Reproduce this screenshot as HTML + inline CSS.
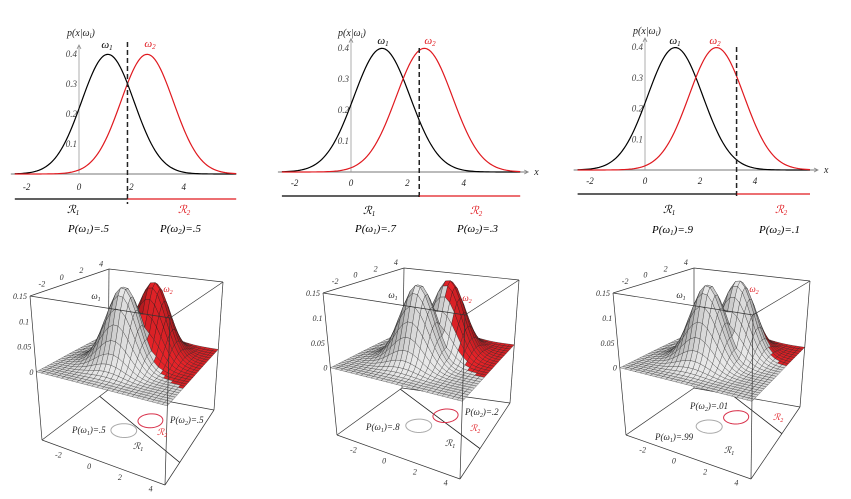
<!DOCTYPE html>
<html><head><meta charset="utf-8"><style>
html,body{margin:0;padding:0;background:#fff;}
svg{display:block;font-family:"Liberation Serif",serif;font-style:italic;}
</style></head><body>
<svg id="fig" width="851" height="499" viewBox="0 0 851 499" xmlns="http://www.w3.org/2000/svg"></svg>
<script>
// ---------- data ----------
const topMeans = [1.1, 2.6];
const topPriors1 = [0.5, 0.7, 0.9];
const topPriors2 = [0.5, 0.3, 0.1];
const topThresholds = [1.85, 2.42, 3.33];
const xTicks = [-2, 0, 2, 4];
const yTicks = [0.1, 0.2, 0.3, 0.4];
const surfMean1 = [0.5, 0.83];
const surfMean2 = [1.5, 2.57];
const surfPrior1 = [0.5, 0.8, 0.99];
const surfPrior2 = [0.5, 0.2, 0.01];
const zTicks = [0, 0.05, 0.1, 0.15];
const floorTicks = [-2, 0, 2, 4];
const priorLabels1 = ['.5', '.8', '.99'];
const priorLabels2 = ['.5', '.2', '.01'];
const topPriorLabels1 = ['.5', '.7', '.9'];
const topPriorLabels2 = ['.5', '.3', '.1'];

const NS = 'http://www.w3.org/2000/svg';
const svg = document.getElementById('fig');
function mk(tag, attrs, parent) {
  const e = document.createElementNS(NS, tag);
  for (const k in attrs) e.setAttribute(k, attrs[k]);
  (parent || svg).appendChild(e);
  return e;
}
function txt(x, y, html, size, color, anchor, parent) {
  const t = mk('text', {x: x, y: y, 'font-size': size, fill: color || '#222', 'text-anchor': anchor || 'start'}, parent);
  t.innerHTML = html;
  return t;
}
const RED = '#e0191f';

// ---------- top 1D panels ----------
const topPanels = [
  {x0: 79, ppu: 26.2, axisY: 174, ypu: 300, regY: 199, dashTop: 42, dashBot: 204, tickY: 190, xlab: false, lbl: [67, 36, 107, 48, 150, 47], r1: [67, 213], r2: [178, 213], p1: [68, 232], p2: [160, 232]},
  {x0: 351, ppu: 28.2, axisY: 172, ypu: 310, regY: 196, dashTop: 48, dashBot: 200, tickY: 186, xlab: true, lbl: [338, 36, 383, 44, 430, 44], r1: [363, 214], r2: [470, 214], p1: [355, 232], p2: [457, 232]},
  {x0: 645, ppu: 27.5, axisY: 170, ypu: 307, regY: 194, dashTop: 47, dashBot: 198, tickY: 184, xlab: true, lbl: [633, 34, 675, 44, 715, 44], r1: [663, 213], r2: [775, 213], p1: [652, 233], p2: [759, 233]}
];
function gauss(x, m) { return Math.exp(-0.5 * (x - m) * (x - m)) / Math.sqrt(2 * Math.PI); }
topPanels.forEach((P, i) => {
  const g = mk('g', {});
  
  
  const X = v => P.x0 + v * P.ppu;
  const Y = v => P.axisY - v * P.ypu;
  const xmin = -2.45, xmax = 6;
  const xa = mk('line', {x1: X(xmin) - 4, y1: P.axisY, x2: X(xmax) + (P.xlab ? 8 : 0), y2: P.axisY, stroke: '#777', 'stroke-width': 0.9}, g);
  
  
  const ya = mk('line', {x1: X(0), y1: P.axisY, x2: X(0), y2: Y(0.43), stroke: '#999', 'stroke-width': 0.8}, g);
  
  
  mk('path', {d: `M${X(0) - 2},${Y(0.43) + 4} L${X(0)},${Y(0.43)} L${X(0) + 2},${Y(0.43) + 4}`, fill: 'none', stroke: '#888', 'stroke-width': 0.8}, g);
  if (P.xlab) {
    mk('path', {d: `M${X(xmax) + 4},${P.axisY - 2} L${X(xmax) + 8},${P.axisY} L${X(xmax) + 4},${P.axisY + 2}`, fill: 'none', stroke: '#888', 'stroke-width': 0.8}, g);
    const xl = txt(X(xmax) + 14, P.axisY + 3, 'x', 10, '#222', 'start', g);
    
    
  }
  xTicks.forEach(t => {
    const e = txt(X(t), P.tickY, String(t), 9, '#222', 'middle', g);
    
    
  });
  yTicks.forEach(t => {
    const e = txt(X(0) - 2, Y(t) + 3, String(t), 9, '#444', 'end', g);
    
    
  });
  topMeans.forEach((m, k) => {
    let d = '';
    for (let j = 0; j <= 120; j++) {
      const x = xmin + (xmax - xmin) * j / 120;
      d += (j ? 'L' : 'M') + X(x).toFixed(2) + ',' + Y(gauss(x, m)).toFixed(2);
    }
    const c = mk('path', {d: d, fill: 'none', stroke: k ? RED : '#000', 'stroke-width': 1.2}, g);
    
    
  });
  const th = topThresholds[i];
  const dl = mk('line', {x1: X(th), y1: P.dashTop, x2: X(th), y2: P.dashBot, stroke: '#222', 'stroke-width': 1.5, 'stroke-dasharray': '5,3'}, g);
  
  
  const r1 = mk('line', {x1: X(xmin), y1: P.regY, x2: X(th), y2: P.regY, stroke: '#000', 'stroke-width': 1.2}, g);
  
  
  const r2 = mk('line', {x1: X(th), y1: P.regY, x2: X(xmax), y2: P.regY, stroke: RED, 'stroke-width': 1.2}, g);
  
  
  let e;
  e = txt(P.lbl[0], P.lbl[1], 'p(x|ω<tspan font-size="7" dy="2">i</tspan><tspan dy="-2">)</tspan>', 10, '#222', 'start', g);
   
  e = txt(P.lbl[2], P.lbl[3], 'ω<tspan font-size="7" dy="2">1</tspan>', 11, '#000', 'middle', g);
   
  e = txt(P.lbl[4], P.lbl[5], 'ω<tspan font-size="7" dy="2">2</tspan>', 11, RED, 'middle', g);
   
  e = txt(P.r1[0], P.r1[1], 'ℛ<tspan font-size="7" dy="2">1</tspan>', 11, '#000', 'start', g);
   
  e = txt(P.r2[0], P.r2[1], 'ℛ<tspan font-size="7" dy="2">2</tspan>', 11, RED, 'start', g);
   
  e = txt(P.p1[0], P.p1[1], 'P(ω<tspan font-size="7" dy="2">1</tspan><tspan dy="-2">)=' + topPriorLabels1[i] + '</tspan>', 11, '#000', 'start', g);
   
  e = txt(P.p2[0], P.p2[1], 'P(ω<tspan font-size="7" dy="2">2</tspan><tspan dy="-2">)=' + topPriorLabels2[i] + '</tspan>', 11, '#000', 'start', g);
   
});

// ---------- bottom 3D panels ----------
const ZB = -0.135, ZT = 0.15, UMIN = -3, UMAX = 5;
const boxes = [
  {bot: {L: [42, 440], F: [165, 485], R: [214, 410], B: [108, 390]}, top: {L: [30, 296], F: [170, 318], R: [223, 282], B: [109, 269]},
   w1: [96, 299], w2: [168, 292], p1: [72, 433], p2: [170, 423], r1: [133, 449], r2: [157, 435]},
  {bot: {L: [337, 435], F: [460, 479], R: [510, 403], B: [402, 388]}, top: {L: [323, 293], F: [465, 315], R: [519, 280], B: [404, 268]},
   w1: [393, 298], w2: [467, 301], p1: [366, 430], p2: [465, 415], r1: [445, 446], r2: [470, 431]},
  {bot: {L: [626, 435], F: [751, 479], R: [800, 407], B: [694, 388]}, top: {L: [613, 293], F: [753, 315], R: [810, 281], B: [694, 268]},
   w1: [681, 298], w2: [754, 292], p1: [655, 440], p2: [690, 409], r1: [724, 453], r2: [773, 420]}
];
function bil(f, s, t) {
  return [f.L[0] * (1 - s) * (1 - t) + f.F[0] * s * (1 - t) + f.B[0] * (1 - s) * t + f.R[0] * s * t,
          f.L[1] * (1 - s) * (1 - t) + f.F[1] * s * (1 - t) + f.B[1] * (1 - s) * t + f.R[1] * s * t];
}
function proj(b, u, v, z) {
  const s = (u - UMIN) / (UMAX - UMIN), t = (v - UMIN) / (UMAX - UMIN);
  const pb = bil(b.bot, s, t), pt = bil(b.top, s, t);
  const w = (z - ZB) / (ZT - ZB);
  return [pb[0] + (pt[0] - pb[0]) * w, pb[1] + (pt[1] - pb[1]) * w];
}
function g2(u, v, m) { const du = u - m[0], dv = v - m[1]; return Math.exp(-0.5 * (du * du + dv * dv)) / (2 * Math.PI); }
function pt2(p) { return p[0].toFixed(2) + ',' + p[1].toFixed(2); }
function line3(g, b, a, c, col, wdt, name) {
  const p = proj(b, a[0], a[1], a[2]), q = proj(b, c[0], c[1], c[2]);
  const l = mk('line', {x1: p[0], y1: p[1], x2: q[0], y2: q[1], stroke: col || '#333', 'stroke-width': wdt || 0.7}, g);
  
  
}
boxes.forEach((b, i) => {
  const g = mk('g', {});
  
  
  const P1 = surfPrior1[i], P2 = surfPrior2[i];
  const isR2 = (u, v) => Math.log(P2 * g2(u, v, surfMean2)) > Math.log(P1 * g2(u, v, surfMean1));
  const lo = UMIN, hi = UMAX;
  line3(g, b, [lo, lo, ZB], [hi, lo, ZB], '#333', 0.7, 'box-edge');
  line3(g, b, [hi, lo, ZB], [hi, hi, ZB], '#333', 0.7, 'box-edge');
  line3(g, b, [lo, lo, ZB], [lo, hi, ZB], '#333', 0.7, 'box-edge');
  line3(g, b, [lo, hi, ZB], [hi, hi, ZB], '#333', 0.7, 'box-edge');
  line3(g, b, [lo, hi, ZB], [lo, hi, ZT], '#333', 0.7, 'box-edge');
  line3(g, b, [lo, lo, ZT], [lo, hi, ZT], '#333', 0.7, 'box-edge');
  line3(g, b, [lo, hi, ZT], [hi, hi, ZT], '#333', 0.7, 'box-edge');
  const d = [surfMean2[0] - surfMean1[0], surfMean2[1] - surfMean1[1]];
  const cst = ((surfMean2[0] ** 2 + surfMean2[1] ** 2) - (surfMean1[0] ** 2 + surfMean1[1] ** 2)) / 2 + Math.log(P1 / P2);
  const pts = [];
  [lo, hi].forEach(u => { const v = (cst - d[0] * u) / d[1]; if (v >= lo && v <= hi) pts.push([u, v]); });
  [lo, hi].forEach(v => { const u = (cst - d[1] * v) / d[0]; if (u >= lo && u <= hi) pts.push([u, v]); });
  if (pts.length >= 2) line3(g, b, [pts[0][0], pts[0][1], ZB], [pts[1][0], pts[1][1], ZB], '#222', 0.8, 'decision-boundary');
  [surfMean1, surfMean2].forEach((m, k) => {
    let dd = '';
    for (let j = 0; j <= 40; j++) {
      const a = j / 40 * 2 * Math.PI;
      dd += (j ? 'L' : 'M') + pt2(proj(b, m[0] + 0.8 * Math.cos(a), m[1] + 0.8 * Math.sin(a), ZB));
    }
    const e = mk('path', {d: dd + 'Z', fill: 'none', stroke: k ? '#d8304a' : '#aaa', 'stroke-width': 1}, g);
    
    
  });
  const N = 26, st = (hi - lo) / N;
  const H = (u, v) => Math.max(g2(u, v, surfMean1), g2(u, v, surfMean2));
  const quads = [];
  for (let a = 0; a < N; a++) for (let c = 0; c < N; c++) {
    const u0 = lo + a * st, v0 = lo + c * st;
    quads.push([u0, v0, u0 + st, v0 + st]);
  }
  quads.sort((p, q) => (p[0] - p[1]) - (q[0] - q[1]) || (q[1] - p[1]));
  const surf = mk('g', {}, g);
  
  
  const L = [0.35, -0.5, 0.8]; const Ln = Math.hypot(...L);
  quads.forEach(q => {
    const [u0, v0, u1, v1] = q;
    const um = (u0 + u1) / 2, vm = (v0 + v1) / 2;
    const k = 31;
    const dzu = (H(u1, vm) - H(u0, vm)) / st * k, dzv = (H(um, v1) - H(um, v0)) / st * k;
    const n = [-dzu, -dzv, 1], nn = Math.hypot(...n);
    let br = (n[0] * L[0] + n[1] * L[1] + n[2] * L[2]) / (nn * Ln);
    br = Math.max(0.5, Math.min(1, 0.45 + 0.6 * br));
    const red = isR2(um, vm);
    const col = red ? `rgb(${Math.round(230 * br)},${Math.round(35 * br)},${Math.round(40 * br)})`
                    : `rgb(${Math.round(232 * br)},${Math.round(232 * br)},${Math.round(232 * br)})`;
    const dd = 'M' + pt2(proj(b, u0, v0, H(u0, v0))) + 'L' + pt2(proj(b, u1, v0, H(u1, v0))) + 'L' + pt2(proj(b, u1, v1, H(u1, v1))) + 'L' + pt2(proj(b, u0, v1, H(u0, v1))) + 'Z';
    const e = mk('path', {d: dd, fill: col, stroke: '#222', 'stroke-width': 0.3}, surf);
    
    
  });
  line3(g, b, [lo, lo, ZT], [hi, lo, ZT], '#333', 0.7, 'box-edge');
  line3(g, b, [hi, lo, ZT], [hi, hi, ZT], '#333', 0.7, 'box-edge');
  line3(g, b, [lo, lo, ZB], [lo, lo, ZT], '#333', 0.7, 'box-edge');
  line3(g, b, [hi, lo, ZB], [hi, lo, ZT], '#333', 0.7, 'box-edge');
  line3(g, b, [hi, hi, ZB], [hi, hi, ZT], '#333', 0.7, 'box-edge');
  floorTicks.forEach(t => {
    const p = proj(b, t, lo, ZB);
    const e = txt(p[0] + 1, p[1] + 12, String(t), 8, '#333', 'middle', g);
     
    const p2 = proj(b, lo, t, ZT);
    const e2 = txt(p2[0] + 2, p2[1] - 6, String(t), 8, '#333', 'middle', g);
     
  });
  zTicks.forEach(t => {
    const p = proj(b, lo, lo, t);
    const e = txt(p[0] - 3, p[1] + 3, String(t), 8, '#333', 'end', g);
     
  });
  let e;
  e = txt(b.w1[0], b.w1[1], 'ω<tspan font-size="6" dy="2">1</tspan>', 9, '#222', 'middle', g);
   
  e = txt(b.w2[0], b.w2[1], 'ω<tspan font-size="6" dy="2">2</tspan>', 9, RED, 'middle', g);
   
  e = txt(b.p1[0], b.p1[1], 'P(ω<tspan font-size="6" dy="2">1</tspan><tspan dy="-2">)=' + priorLabels1[i] + '</tspan>', 9, '#222', 'start', g);
   
  e = txt(b.p2[0], b.p2[1], 'P(ω<tspan font-size="6" dy="2">2</tspan><tspan dy="-2">)=' + priorLabels2[i] + '</tspan>', 9, '#222', 'start', g);
   
  e = txt(b.r1[0], b.r1[1], 'ℛ<tspan font-size="6" dy="2">1</tspan>', 9, '#222', 'start', g);
   
  e = txt(b.r2[0], b.r2[1], 'ℛ<tspan font-size="6" dy="2">2</tspan>', 9, RED, 'start', g);
   
});
</script>
</body></html>
